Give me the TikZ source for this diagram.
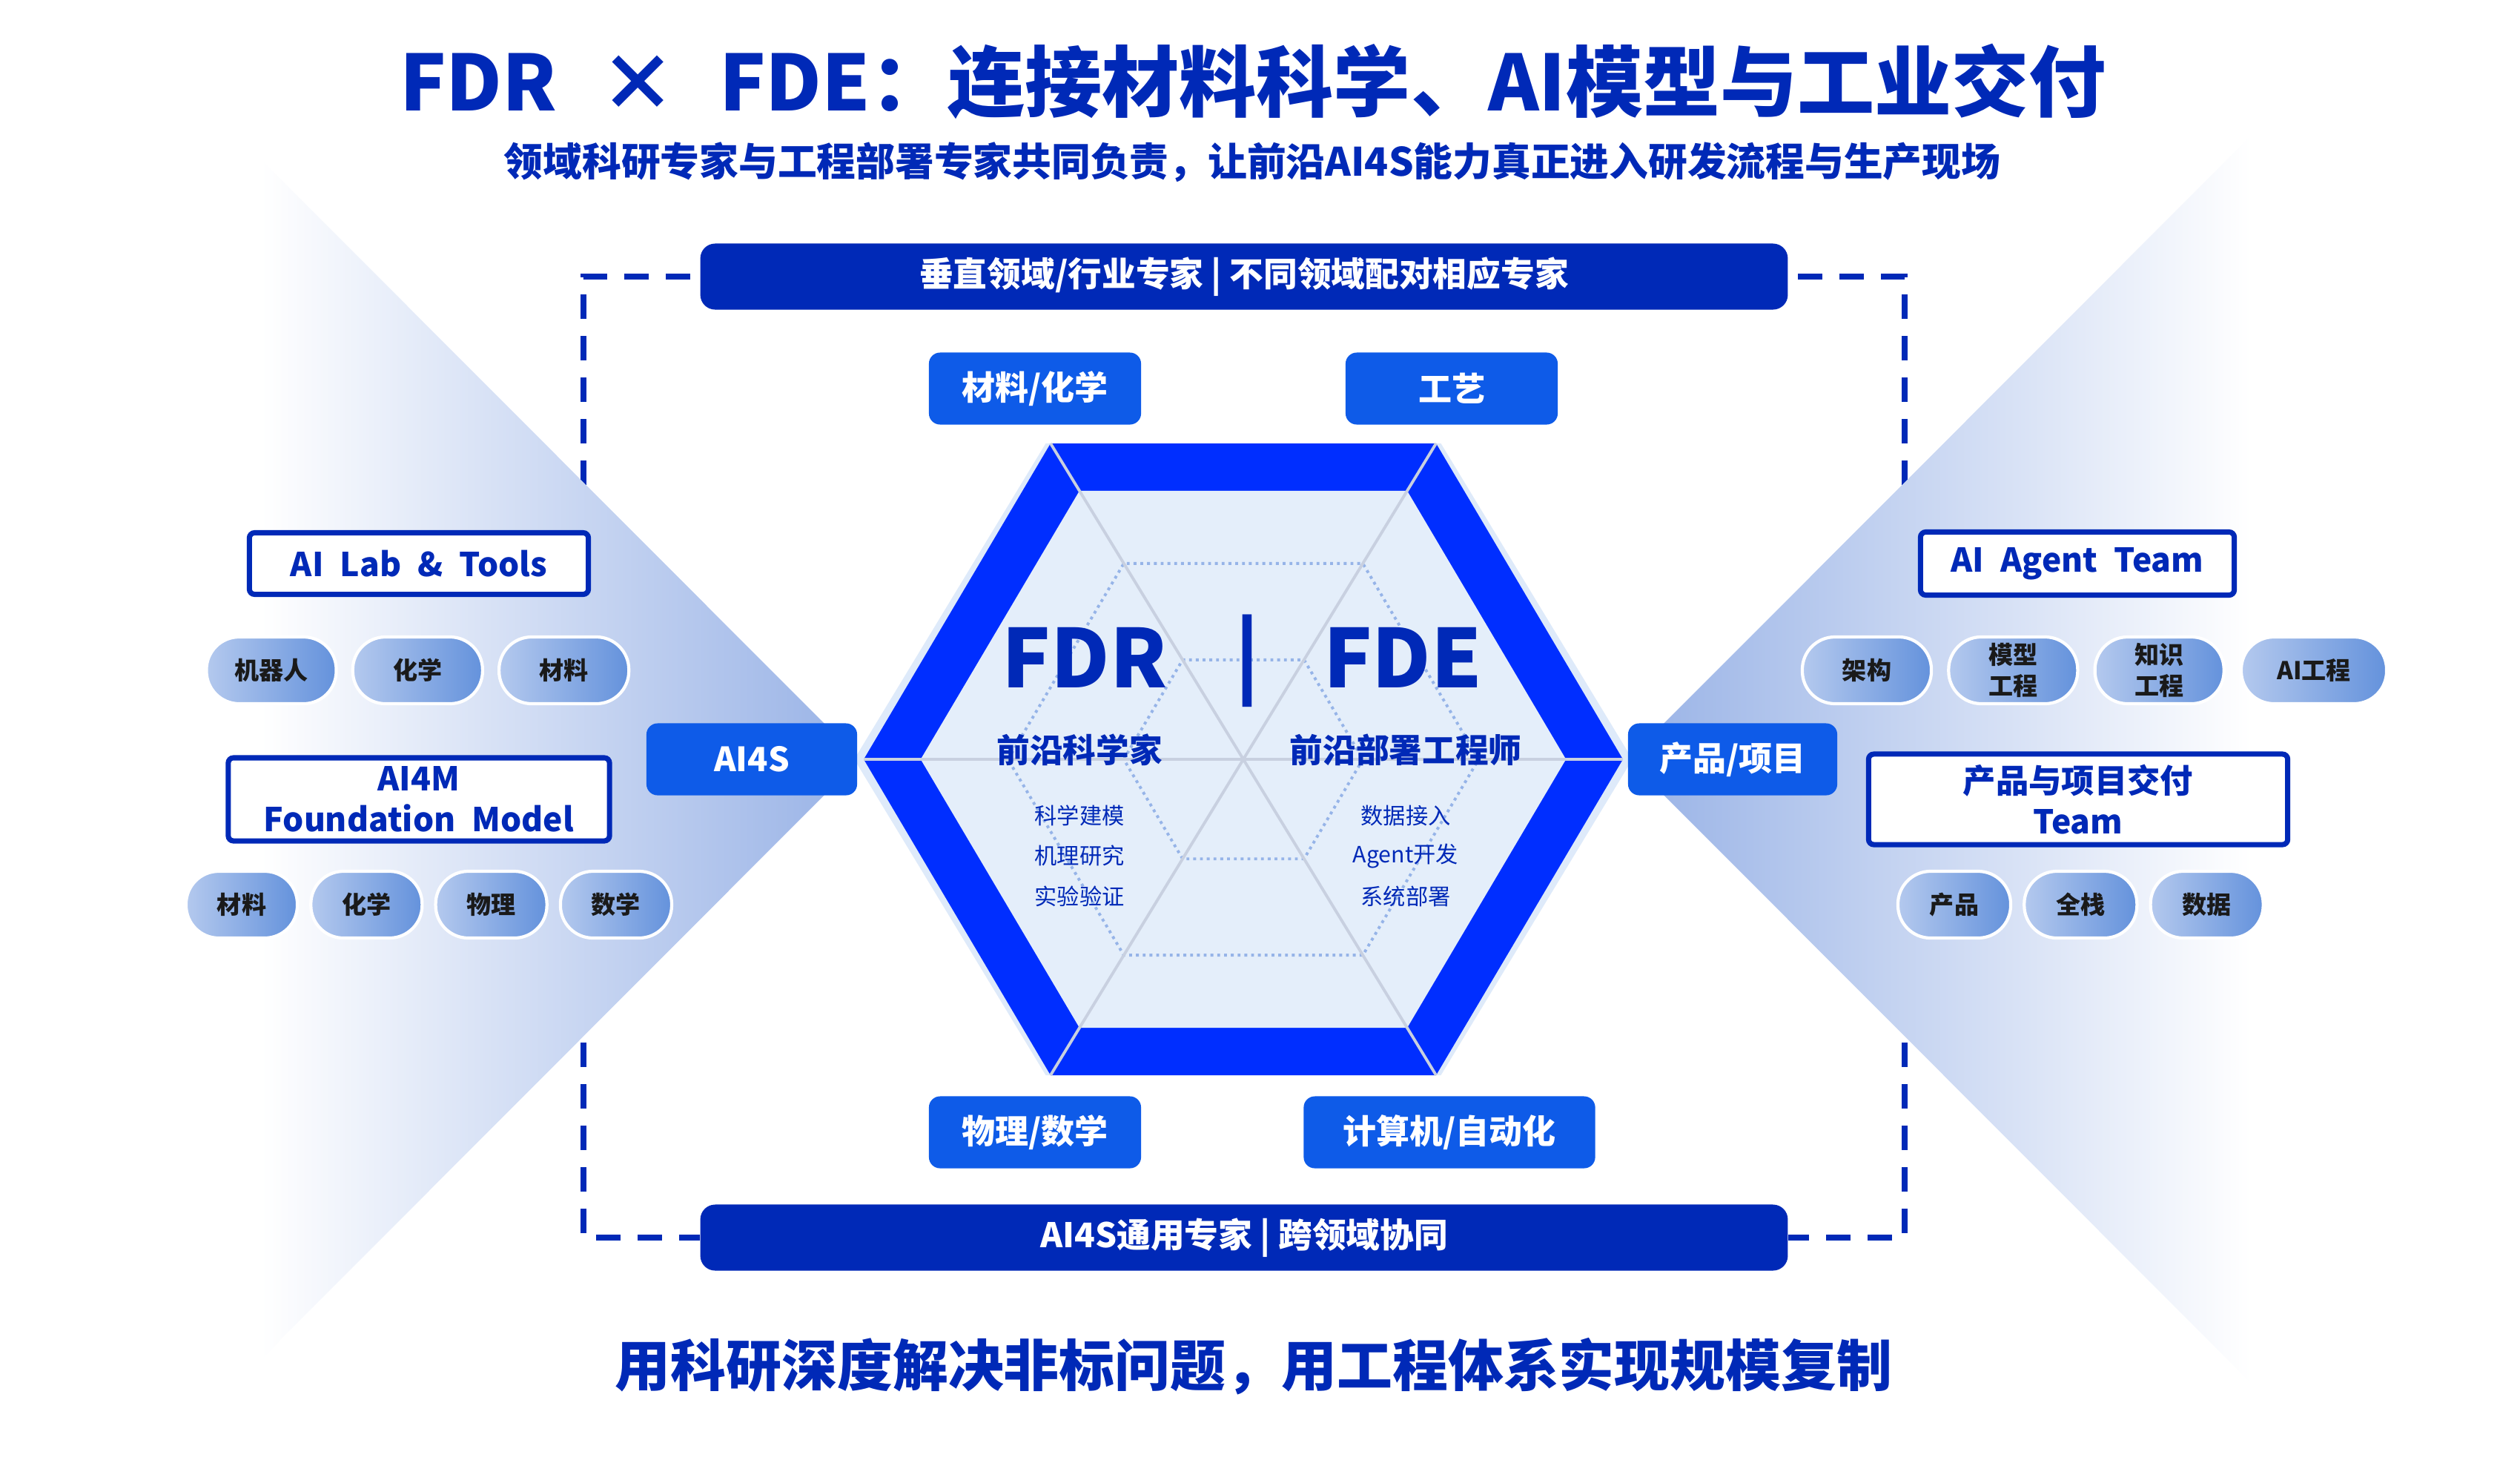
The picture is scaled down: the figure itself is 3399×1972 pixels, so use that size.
\documentclass[tikz,border=0pt]{standalone}
\usepackage{fontspec}
\setmainfont{Noto Sans CJK SC}
\usepackage{tikz}
\usetikzlibrary{positioning}

\definecolor{navy}{RGB}{0,41,183}
\definecolor{ringblue}{RGB}{0,46,255}
\definecolor{tagblue}{RGB}{14,91,232}
\definecolor{hexfill}{RGB}{228,238,250}
\definecolor{halo}{RGB}{222,234,250}
\definecolor{spoke}{RGB}{200,208,224}
\definecolor{dotblue}{RGB}{150,180,232}
\definecolor{wedge}{RGB}{152,178,230}
\definecolor{pillL}{RGB}{180,201,238}
\definecolor{pillR}{RGB}{100,146,220}
\definecolor{ink}{RGB}{26,26,26}

\newcommand{\hexagon}{(-512,0) -- (-260,-426) -- (260,-426) -- (512,0) -- (260,426) -- (-260,426) -- cycle}

\begin{document}
\begin{tikzpicture}
    [
    x=0.01cm, y=-0.01cm,
    headbar/.style={fill=navy, text=white, rounded corners=0.2cm, minimum width=14.66cm, minimum height=0.89cm, font=\bfseries\fontsize{13}{15}\selectfont},
    tagbox/.style={fill=tagblue, text=white, rounded corners=0.15cm, minimum width=2.86cm, minimum height=0.97cm, font=\bfseries\fontsize{12.8}{15}\selectfont},
    teambox/.style={draw=navy, line width=2pt, fill=white, rounded corners=0.07cm, text=navy, align=center, font={\bfseries\fontsize{12.6}{15.5}\selectfont\spaceskip=0.5em\relax}},
    pill/.style={draw=white, line width=1.2pt, left color=pillL, right color=pillR, rounded corners=0.44cm, minimum width=1.75cm, minimum height=0.9cm, inner sep=0pt, text=ink, align=center, font=\bfseries\fontsize{9.4}{12}\selectfont},
    dashframe/.style={navy, line width=2.4pt, dash pattern=on 0.33cm off 0.23cm, dash phase=0.43cm},
    bigword/.style={text=navy, font=\bfseries\fontsize{31}{36}\selectfont},
    role/.style={text=navy, font=\bfseries\fontsize{12.7}{15}\selectfont},
    duty/.style={text=navy, font=\fontsize{8.6}{10}\selectfont},
    spokeline/.style={draw=spoke, line width=1.1pt},
    ring/.style={draw=dotblue, line width=1.1pt, dash pattern=on 1.1pt off 1.5pt},
    ]
    \useasboundingbox[fill=white] (0,0) rectangle (3399,1972);

    \node (topbar) at (1678,373) [headbar] {垂直领域/行业专家 | 不同领域配对相应专家};
    \node (botbar) at (1678,1669) [headbar] {AI4S通用专家 | 跨领域协同};

    \coordinate (frameL) at (787,1024);
    \coordinate (frameR) at (2569,1024);
    \draw [dashframe] (topbar.west) -| (frameL) |- (botbar.west);
    \draw [dashframe] (topbar.east) -| (frameR) |- (botbar.east);

    \shade [left color=white, right color=wedge] (352,215) -- (1160,1024) -- (352,1833) -- cycle;
    \shade [left color=wedge, right color=white] (2196,1024) -- (3036,183) -- (3036,1865) -- cycle;

    \coordinate (hc) at (1677,1024);
    \coordinate (vl) at (1165,1024);
    \coordinate (vtl) at (1417,598);
    \coordinate (vtr) at (1937,598);
    \coordinate (vr) at (2189,1024);
    \coordinate (vbr) at (1937,1450);
    \coordinate (vbl) at (1417,1450);
    \fill [halo, shift={(hc)}, xscale=1.025] \hexagon;
    \fill [ringblue] (vl) -- (vtl) -- (vtr) -- (vr) -- (vbr) -- (vbl) -- cycle;
    \fill [hexfill, shift={(hc)}, scale=0.85] \hexagon;
    \draw [ring, shift={(hc)}, scale=0.62] \hexagon;
    \draw [ring, shift={(hc)}, scale=0.315] \hexagon;
    \draw [spokeline] (vl) to (vr);
    \draw [spokeline] (vtl) to (vbr);
    \draw [spokeline] (vtr) to (vbl);

    \node (fdr) at (1463,887) [bigword] {FDR};
    \node (divider) at (1682,891) [bigword] {|};
    \node (fde) at (1892,887) [bigword] {FDE};
    \node (fdrrole) at (1456,1011) [role] {前沿科学家};
    \node (fderole) at (1896,1011) [role] {前沿部署工程师};
    \node (fdr1) at (1456,1100) [duty] {科学建模};
    \node (fdr2) at (1456,1154) [duty] {机理研究};
    \node (fdr3) at (1456,1209) [duty] {实验验证};
    \node (fde1) at (1896,1100) [duty] {数据接入};
    \node (fde2) at (1896,1154) [duty] {Agent开发};
    \node (fde3) at (1896,1209) [duty] {系统部署};

    \node (chem) at (1396,524) [tagbox] {材料/化学};
    \node (craft) at (1958,524) [tagbox] {工艺};
    \node (phys) at (1396,1527) [tagbox] {物理/数学};
    \node (comp) at (1955,1527) [tagbox, minimum width=3.93cm] {计算机/自动化};
    \node (ai4s) at (1014,1024) [tagbox, minimum width=2.84cm] {AI4S};
    \node (prod) at (2337,1024) [tagbox, minimum width=2.82cm] {产品/项目};

    \node (labtools) at (565,760) [teambox, minimum width=4.57cm, minimum height=0.83cm] {AI Lab \& Tools};
    \node (labrobot) at (366,904) [pill] {机器人};
    \node (labchem) [pill, right=0.18cm of labrobot] {化学};
    \node (labmat) [pill, right=0.18cm of labchem] {材料};

    \node (ai4m) at (565,1078) [teambox, minimum width=5.14cm, minimum height=1.12cm] {AI4M\\Foundation Model};
    \node (fmmat) at (326,1220) [pill, minimum width=1.5cm] {材料};
    \node (fmchem) [pill, minimum width=1.5cm, right=0.14cm of fmmat] {化学};
    \node (fmphys) [pill, minimum width=1.5cm, right=0.14cm of fmchem] {物理};
    \node (fmmath) [pill, minimum width=1.5cm, right=0.14cm of fmphys] {数学};

    \node (agent) at (2802,760) [teambox, minimum width=4.23cm, minimum height=0.85cm] {AI Agent Team};
    \node (agarch) at (2518,904) [pill, minimum width=1.74cm] {架构};
    \node (agmodel) [pill, minimum width=1.74cm, right=0.19cm of agarch] {模型\\工程};
    \node (agknow) [pill, minimum width=1.74cm, right=0.19cm of agmodel] {知识\\工程};
    \node (agai) [pill, minimum width=1.96cm, right=0.19cm of agknow] {AI工程};

    \node (delivery) at (2803,1078) [teambox, minimum width=5.65cm, minimum height=1.22cm] {产品与项目交付\\Team};
    \node (dlprod) at (2636,1220) [pill, minimum width=1.52cm] {产品};
    \node (dlstack) [pill, minimum width=1.52cm, right=0.14cm of dlprod] {全栈};
    \node (dldata) [pill, minimum width=1.52cm, right=0.14cm of dlstack] {数据};

    \node (title) at (1690,110) [text=navy, font=\bfseries\fontsize{29.6}{34}\selectfont] {FDR\hspace{0.55em}×\hspace{0.55em}FDE：连接材料科学、AI模型与工业交付};
    \node (subtitle) at (1689,219) [text=navy, font=\bfseries\fontsize{15}{18}\selectfont] {领域科研专家与工程部署专家共同负责，让前沿AI4S能力真正进入研发流程与生产现场};
    \node (motto) at (1691,1843) [text=navy, font=\bfseries\fontsize{21.3}{25}\selectfont] {用科研深度解决非标问题，用工程体系实现规模复制};
  \end{tikzpicture}
\end{document}
